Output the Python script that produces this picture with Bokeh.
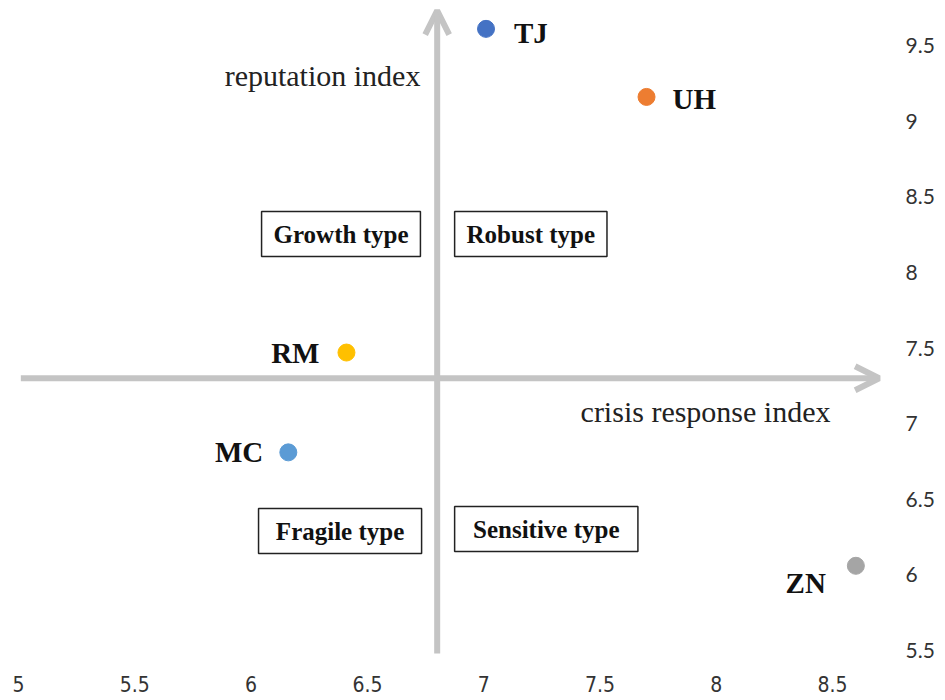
from bokeh.plotting import figure
from bokeh.models import ColumnDataSource, Range1d, FixedTicker, Arrow, OpenHead
from bokeh.core.properties import value
from bokeh.embed import file_html
from bokeh.resources import INLINE

# ---- data ----
names = ["TJ", "UH", "RM", "MC", "ZN"]
crisis_response = [7.01, 7.70, 6.41, 6.16, 8.60]
reputation = [9.61, 9.16, 7.47, 6.81, 6.06]
colors = ["#4472C4", "#ED7D31", "#FFC000", "#5B9BD5", "#A5A5A5"]
x_ticks = [5, 5.5, 6, 6.5, 7, 7.5, 8, 8.5]
y_ticks = [5.5, 6, 6.5, 7, 7.5, 8, 8.5, 9, 9.5]
x_cross = 6.8
y_cross = 7.3
quadrants = ["Growth type", "Robust type", "Fragile type", "Sensitive type"]

PXX = 232.6   # px per unit x
PXY = 151.25  # px per unit y
FW, FH = 885, 660
x0 = 5 - 18 / PXX
y1 = 9.5 + 45 / PXY

p = figure(frame_width=FW, frame_height=FH, output_backend="svg",
           toolbar_location=None, y_axis_location="right",
           x_range=Range1d(x0, x0 + FW / PXX),
           y_range=Range1d(y1 - FH / PXY, y1),
           min_border=0, min_border_left=0, min_border_top=0,
           min_border_bottom=38)
p.outline_line_color = None
p.grid.visible = False
p.background_fill_color = "white"

for ax in (p.xaxis[0], p.yaxis[0]):
    ax.axis_line_color = None
    ax.major_tick_line_color = None
    ax.minor_tick_line_color = None
    ax.major_label_text_color = "#333333"
p.xaxis.ticker = FixedTicker(ticks=x_ticks)
p.yaxis.ticker = FixedTicker(ticks=y_ticks)
p.xaxis.major_label_text_font = "DejaVu Sans Condensed"
p.xaxis.major_label_text_font_size = "21px"
p.xaxis.major_label_standoff = 9
p.yaxis.major_label_text_font = "Lato"
p.yaxis.major_label_text_font_size = "21px"
p.yaxis.major_label_standoff = 14

grey = "#C4C4C4"
# axes arrows
p.add_layout(Arrow(x_start=x_cross, y_start=5.48, x_end=x_cross, y_end=9.73,
                   line_color=grey, line_width=6,
                   end=OpenHead(size=24, line_color=grey, line_width=6)))
p.add_layout(Arrow(x_start=5.01, y_start=y_cross, x_end=8.70, y_end=y_cross,
                   line_color=grey, line_width=6,
                   end=OpenHead(size=24, line_color=grey, line_width=6)))

# quadrant boxes
bx_left = [6.045, 6.875, 6.032, 6.875]
bx_right = [6.728, 7.530, 6.733, 7.663]
by_bottom = [8.105, 8.105, 6.141, 6.154]
by_top = [8.402, 8.402, 6.439, 6.452]
p.quad(left=bx_left, right=bx_right, bottom=by_bottom, top=by_top,
       fill_color="white", line_color="#222222", line_width=1.5)
p.text(x=[(a + b) / 2 for a, b in zip(bx_left, bx_right)],
       y=[(a + b) / 2 for a, b in zip(by_bottom, by_top)],
       text=quadrants, text_font=value("Liberation Serif"),
       text_font_style="bold", text_font_size="25px",
       text_align="center", text_baseline="middle", text_color="#111111")

# points
src = ColumnDataSource(dict(x=crisis_response, y=reputation, name=names, color=colors))
p.scatter("x", "y", source=src, size=17, fill_color="color", line_color="color")

# point labels
label_dx = [28, 26, -27, -25, -30]
label_dy = [4, 2, 0, 0, 17]
align = ["left", "left", "right", "right", "right"]
lsrc = ColumnDataSource(dict(x=crisis_response, y=reputation, name=names,
                             dx=label_dx, dy=label_dy, align=align))
p.text("x", "y", text="name", source=lsrc, x_offset="dx", y_offset="dy",
       text_align="align", text_baseline="middle",
       text_font=value("Liberation Serif"), text_font_style="bold",
       text_font_size="29px", text_color="#111111")

# axis titles
p.text(x=[6.728, 8.491], y=[9.30, 7.08],
       text=["reputation index", "crisis response index"],
       text_align="right", text_baseline="middle",
       text_font=value("Liberation Serif"), text_font_size="30px",
       text_color="#222222")

open("out.html", "w").write(file_html(p, INLINE))
